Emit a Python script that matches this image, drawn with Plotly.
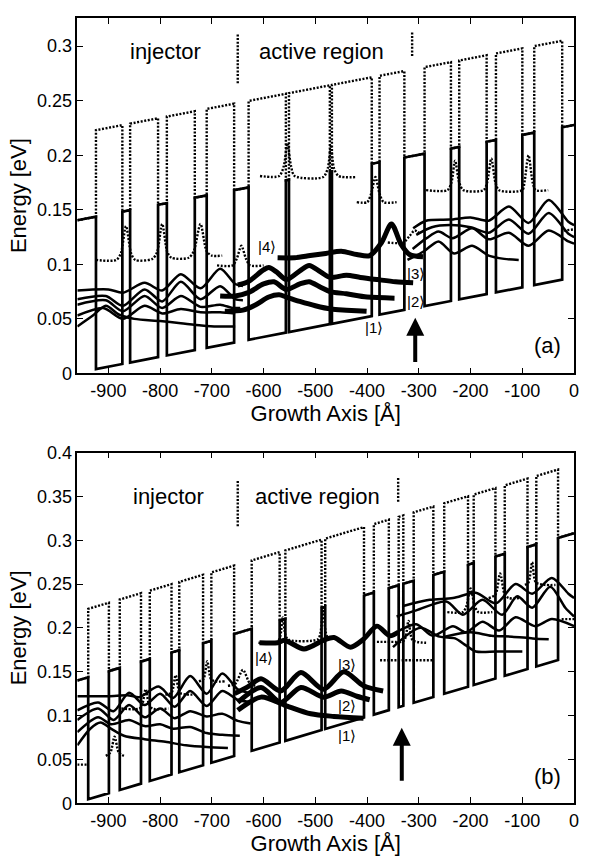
import plotly.graph_objects as go

# ---------------- panel (a) structure ----------------
a_barriers = [(-960, -924), (-873, -858), (-804, -787), (-733, -710), (-657, -629),
              (-557, -551), (-472, -468), (-391, -376), (-328, -289), (-238, -222),
              (-169, -151), (-100, -77), (-23, 0)]
a_slope = 9.1e-5          # eV per Angstrom
a_gamma_well = 0.0007     # Gamma well bottom at -960
a_x_barrier = 0.1404      # X level in barriers at -960
a_x_well = 0.2197         # X level in wells at -960

# ---------------- panel (b) structure ----------------
b_barriers = [(-960, -939), (-899, -878), (-837, -820), (-778, -763), (-717, -701),
              (-657, -623), (-569, -558), (-488, -481), (-406, -387), (-358, -339),
              (-330, -310), (-272, -251), (-205, -194), (-152, -134), (-90, -73), (-31, 0)]
b_slope = 1.75e-4
b_gamma_well = 0.0008
b_x_barrier = 0.140
b_x_well = 0.218

# ---------------- panel (a) wavefunctions ----------------
a_inj = [
    [(-960, 0.076), (-900, 0.077), (-872, 0.074), (-830, 0.083), (-796, 0.076), (-760, 0.091), (-722, 0.078), (-684, 0.096), (-655, 0.082), (-640, 0.080)],
    [(-960, 0.068), (-905, 0.071), (-872, 0.062), (-830, 0.077), (-796, 0.066), (-760, 0.084), (-722, 0.068), (-684, 0.080), (-655, 0.068), (-640, 0.067)],
    [(-960, 0.063), (-905, 0.067), (-872, 0.057), (-830, 0.071), (-796, 0.060), (-760, 0.071), (-722, 0.061), (-684, 0.063), (-660, 0.060), (-645, 0.060)],
    [(-960, 0.053), (-910, 0.060), (-872, 0.050), (-830, 0.062), (-796, 0.055), (-760, 0.059), (-722, 0.056), (-684, 0.056), (-655, 0.055)],
    [(-960, 0.043), (-930, 0.053), (-905, 0.062), (-880, 0.054), (-850, 0.050), (-800, 0.048), (-760, 0.046), (-720, 0.044), (-690, 0.043), (-655, 0.043)],
]
a_inj_right = [
    [(-311, 0.133), (-286, 0.140), (-240, 0.141), (-200, 0.143), (-165, 0.140), (-126, 0.153), (-88, 0.138), (-49, 0.159), (-11, 0.139), (0, 0.136)],
    [(-305, 0.127), (-275, 0.134), (-240, 0.136), (-200, 0.134), (-165, 0.129), (-126, 0.141), (-88, 0.128), (-49, 0.147), (-11, 0.128), (0, 0.125)],
    [(-312, 0.114), (-285, 0.124), (-262, 0.130), (-235, 0.124), (-197, 0.133), (-165, 0.123), (-126, 0.129), (-88, 0.117), (-49, 0.131), (-11, 0.121), (0, 0.119)],
    [(-322, 0.104), (-290, 0.112), (-262, 0.121), (-232, 0.110), (-197, 0.117), (-165, 0.108), (-135, 0.105), (-107, 0.104)],
]
a_state4 = [(-573, 0.106), (-540, 0.106), (-510, 0.108), (-480, 0.110), (-450, 0.112), (-420, 0.109), (-395, 0.108), (-372, 0.120), (-353, 0.137), (-334, 0.118), (-318, 0.109), (-292, 0.107)]
a_state3 = [(-650, 0.081), (-630, 0.084), (-600, 0.095), (-590, 0.097), (-575, 0.093), (-556, 0.086), (-530, 0.094), (-512, 0.099), (-490, 0.093), (-472, 0.088), (-440, 0.090), (-413, 0.088), (-380, 0.086), (-345, 0.084), (-311, 0.083)]
a_state2 = [(-684, 0.071), (-655, 0.071), (-630, 0.074), (-600, 0.082), (-580, 0.084), (-556, 0.077), (-530, 0.082), (-512, 0.084), (-490, 0.079), (-472, 0.075), (-440, 0.073), (-400, 0.070), (-347, 0.069)]
a_state1 = [(-675, 0.057), (-640, 0.058), (-615, 0.063), (-590, 0.070), (-570, 0.072), (-556, 0.070), (-530, 0.066), (-500, 0.062), (-470, 0.059), (-440, 0.058), (-401, 0.057)]
a_xstates = [
    [(-924, 0.104), (-885, 0.104), (-876, 0.110), (-866, 0.135), (-856, 0.110), (-848, 0.104), (-815, 0.105), (-806, 0.111), (-796, 0.137), (-786, 0.111), (-778, 0.106), (-745, 0.106), (-735, 0.112), (-722, 0.137), (-710, 0.112), (-700, 0.108), (-680, 0.108)],
    [(-690, 0.099), (-660, 0.099), (-652, 0.105), (-643, 0.117), (-634, 0.105), (-626, 0.099), (-600, 0.099)],
    [(-607, 0.181), (-570, 0.181), (-561, 0.190), (-554, 0.211), (-547, 0.190), (-540, 0.181), (-485, 0.180), (-476, 0.188), (-470, 0.208), (-464, 0.188), (-455, 0.181), (-420, 0.180)],
    [(-420, 0.157), (-400, 0.157), (-392, 0.165), (-384, 0.180), (-376, 0.165), (-368, 0.157), (-343, 0.157)],
    [(-286, 0.168), (-245, 0.168), (-237, 0.175), (-230, 0.195), (-222, 0.175), (-214, 0.168), (-175, 0.168), (-168, 0.175), (-160, 0.197), (-152, 0.175), (-145, 0.168), (-100, 0.168), (-96, 0.175), (-88, 0.200), (-80, 0.175), (-74, 0.168), (-50, 0.168)],
    [(-360, 0.120), (-330, 0.120), (-318, 0.126), (-308, 0.131), (-298, 0.128)],
    [(-20, 0.131), (0, 0.132)],
]

# ---------------- panel (b) wavefunctions ----------------
b_inj = [
    [(-960, 0.122), (-900, 0.122), (-860, 0.123), (-840, 0.121), (-803, 0.133), (-775, 0.120), (-742, 0.145), (-710, 0.125), (-680, 0.148), (-650, 0.130), (-630, 0.126)],
    [(-960, 0.106), (-920, 0.115), (-890, 0.105), (-860, 0.126), (-830, 0.112), (-800, 0.125), (-772, 0.110), (-742, 0.128), (-710, 0.111), (-680, 0.128), (-650, 0.118), (-620, 0.115)],
    [(-960, 0.095), (-920, 0.108), (-890, 0.095), (-860, 0.112), (-830, 0.098), (-800, 0.108), (-772, 0.097), (-742, 0.105), (-710, 0.099), (-680, 0.102), (-650, 0.094), (-625, 0.091)],
    [(-960, 0.081), (-920, 0.098), (-895, 0.090), (-860, 0.095), (-830, 0.088), (-800, 0.090), (-775, 0.085), (-742, 0.087), (-710, 0.080), (-680, 0.078), (-646, 0.077)],
    [(-960, 0.066), (-935, 0.085), (-915, 0.092), (-895, 0.085), (-870, 0.077), (-830, 0.073), (-790, 0.070), (-750, 0.066), (-710, 0.064), (-669, 0.063)],
]
b_inj_right = [
    [(-330, 0.225), (-279, 0.232), (-234, 0.234), (-190, 0.240), (-151, 0.228), (-113, 0.250), (-81, 0.239), (-43, 0.257), (-11, 0.239), (0, 0.234)],
    [(-343, 0.213), (-305, 0.220), (-247, 0.230), (-215, 0.215), (-177, 0.232), (-139, 0.215), (-110, 0.236), (-81, 0.223), (-46, 0.247), (-17, 0.223), (0, 0.213)],
    [(-343, 0.195), (-305, 0.204), (-273, 0.191), (-234, 0.202), (-209, 0.195), (-177, 0.207), (-145, 0.197), (-113, 0.212), (-75, 0.202), (-43, 0.210), (0, 0.202)],
    [(-350, 0.178), (-298, 0.200), (-260, 0.190), (-230, 0.188), (-209, 0.180), (-190, 0.173), (-150, 0.173), (-100, 0.173)],
    [(-250, 0.190), (-200, 0.195), (-160, 0.191), (-120, 0.190), (-80, 0.188), (-49, 0.187)],
]
b_state4 = [(-608, 0.183), (-573, 0.183), (-560, 0.186), (-522, 0.176), (-484, 0.186), (-464, 0.189), (-432, 0.178), (-407, 0.187), (-381, 0.202), (-356, 0.191), (-340, 0.195)]
b_state3 = [(-656, 0.125), (-630, 0.133), (-605, 0.142), (-567, 0.128), (-528, 0.149), (-484, 0.130), (-445, 0.150), (-407, 0.134), (-369, 0.128)]
b_state2 = [(-650, 0.115), (-605, 0.132), (-567, 0.115), (-528, 0.132), (-484, 0.121), (-450, 0.128), (-420, 0.122), (-395, 0.118)]
b_state1 = [(-650, 0.106), (-605, 0.121), (-560, 0.112), (-509, 0.102), (-464, 0.099), (-407, 0.097)]
b_xstates = [
    [(-960, 0.044), (-942, 0.044)],
    [(-905, 0.054), (-896, 0.058), (-888, 0.076), (-880, 0.058), (-870, 0.054)],
    [(-875, 0.108), (-840, 0.108), (-834, 0.114), (-828, 0.130), (-822, 0.114), (-815, 0.108), (-784, 0.108)],
    [(-790, 0.124), (-778, 0.126), (-770, 0.146), (-762, 0.126), (-750, 0.124), (-733, 0.124)],
    [(-725, 0.139), (-716, 0.142), (-709, 0.162), (-702, 0.142), (-694, 0.139), (-675, 0.139)],
    [(-669, 0.134), (-655, 0.136), (-640, 0.152), (-626, 0.136), (-615, 0.134)],
    [(-610, 0.183), (-575, 0.183), (-568, 0.190), (-563, 0.212), (-557, 0.190), (-550, 0.186), (-495, 0.187), (-490, 0.195), (-485, 0.221), (-480, 0.195), (-475, 0.188), (-470, 0.188)],
    [(-375, 0.163), (-273, 0.163)],
    [(-381, 0.184), (-343, 0.184)],
    [(-345, 0.183), (-328, 0.186), (-320, 0.208), (-312, 0.186), (-286, 0.183)],
    [(-245, 0.218), (-215, 0.218), (-208, 0.225), (-200, 0.245), (-192, 0.225), (-185, 0.218), (-158, 0.218)],
    [(-165, 0.234), (-152, 0.238), (-143, 0.262), (-134, 0.238), (-126, 0.234), (-105, 0.234)],
    [(-95, 0.249), (-88, 0.252), (-81, 0.275), (-74, 0.252), (-56, 0.249), (-36, 0.249)],
    [(-24, 0.210), (0, 0.210)],
]

# ---------------- labels ----------------
a_yticks = [0, 0.05, 0.1, 0.15, 0.2, 0.25, 0.3]
a_yticktext = ["0", "0.05", "0.1", "0.15", "0.2", "0.25", "0.3"]
b_yticks = [0, 0.05, 0.1, 0.15, 0.2, 0.25, 0.3, 0.35, 0.4]
b_yticktext = ["0", "0.05", "0.1", "0.15", "0.2", "0.25", "0.3", "0.35", "0.4"]
xticks = [-900, -800, -700, -600, -500, -400, -300, -200, -100, 0]
xticktext = ["-900", "-800", "-700", "-600", "-500", "-400", "-300", "-200", "-100", "0"]

a_state_labels = [("|1⟩", -387, 0.042), ("|2⟩", -306, 0.066), ("|3⟩", -306, 0.092), ("|4⟩", -594, 0.116)]
b_state_labels = [("|1⟩", -439, 0.077), ("|2⟩", -439, 0.111), ("|3⟩", -439, 0.158), ("|4⟩", -600, 0.166)]
a_separators = [(-650, 0.266, 0.311), (-313, 0.291, 0.313)]
b_separators = [(-650, 0.316, 0.369), (-340, 0.344, 0.372)]
a_arrow = (-307, 0.009, 0.051)
b_arrow = (-333, 0.024, 0.086)
a_texts = [("injector", -789, 0.295), ("active region", -489, 0.295), ("(a)", -52, 0.026)]
b_texts = [("injector", -783, 0.350), ("active region", -496, 0.350), ("(b)", -52, 0.030)]

FONT = "Liberation Sans, Arial, sans-serif"
DOTS = "2px,1.6px"
fig = go.Figure()


def layers(barriers, x0=-960, x1=0):
    segs = []
    cur = x0
    for b0, b1 in barriers:
        if b0 > cur:
            segs.append((cur, b0, "W"))
        segs.append((b0, b1, "B"))
        cur = b1
    if cur < x1:
        segs.append((cur, x1, "W"))
    return segs


def polyline(segs, slope, off_w, off_b):
    xs, ys = [], []
    for a, b, t in segs:
        off = off_w if t == "W" else off_b
        xs += [a, b]
        ys += [off + slope * (a + 960), off + slope * (b + 960)]
    return xs, ys


def add_line(pts, xa, ya, width, dash="solid", shape="spline"):
    fig.add_trace(go.Scatter(
        x=[p[0] for p in pts], y=[p[1] for p in pts], mode="lines",
        line=dict(color="black", width=width, dash=dash, shape=shape, smoothing=0.8),
        xaxis=xa, yaxis=ya, showlegend=False, hoverinfo="skip"))


def panel(xa, ya, barriers, slope, gw, xb, xw, inj, inj_r, states, xst, seps):
    segs = layers(barriers)
    dx, dy = polyline(segs, slope, xw, xb)
    fig.add_trace(go.Scatter(x=dx, y=dy, mode="lines",
                             line=dict(color="black", width=2.4, dash=DOTS),
                             xaxis=xa, yaxis=ya, showlegend=False, hoverinfo="skip"))
    sx, sy = polyline(segs, slope, gw, xb)
    fig.add_trace(go.Scatter(x=sx, y=sy, mode="lines",
                             line=dict(color="black", width=2.7),
                             xaxis=xa, yaxis=ya, showlegend=False, hoverinfo="skip"))
    for p in xst:
        add_line(p, xa, ya, 2.4, dash=DOTS)
    for p in inj + inj_r:
        add_line(p, xa, ya, 2.5)
    for p in states:
        add_line(p, xa, ya, 5)
    for x, y0, y1 in seps:
        fig.add_trace(go.Scatter(x=[x, x], y=[y0, y1], mode="lines",
                                 line=dict(color="black", width=2.4, dash=DOTS),
                                 xaxis=xa, yaxis=ya, showlegend=False, hoverinfo="skip"))


panel("x", "y", a_barriers, a_slope, a_gamma_well, a_x_barrier, a_x_well,
      a_inj, a_inj_right, [a_state4, a_state3, a_state2, a_state1], a_xstates, a_separators)
panel("x2", "y2", b_barriers, b_slope, b_gamma_well, b_x_barrier, b_x_well,
      b_inj, b_inj_right, [b_state4, b_state3, b_state2, b_state1], b_xstates, b_separators)

annotations = []
for xr, yr, labs, texts, arrow in (("x", "y", a_state_labels, a_texts, a_arrow),
                                   ("x2", "y2", b_state_labels, b_texts, b_arrow)):
    for t, x, y in labs:
        annotations.append(dict(text=t, x=x, y=y, xref=xr, yref=yr, showarrow=False,
                                font=dict(family=FONT, size=15, color="black")))
    for t, x, y in texts:
        annotations.append(dict(text=t, x=x, y=y, xref=xr, yref=yr, showarrow=False,
                                font=dict(family=FONT, size=22, color="black")))
    ax, y0, y1 = arrow
    annotations.append(dict(x=ax, y=y1, ax=ax, ay=y0, xref=xr, yref=yr, axref=xr, ayref=yr,
                            text="", showarrow=True, arrowhead=2, arrowsize=0.9,
                            arrowwidth=4, arrowcolor="black"))

axis_common = dict(showline=True, linecolor="black", linewidth=1.6, mirror="ticks",
                   ticks="inside", ticklen=6, tickwidth=1.4, tickcolor="black",
                   showgrid=False, zeroline=False,
                   tickfont=dict(family=FONT, size=18, color="black"))
title_font = dict(family=FONT, size=22, color="black")

fig.update_layout(
    width=589, height=865, margin=dict(l=0, r=0, t=0, b=0),
    paper_bgcolor="white", plot_bgcolor="white",
    annotations=annotations,
    xaxis=dict(domain=[78 / 589, 579 / 589], range=[-960, 0], anchor="y",
               tickvals=xticks, ticktext=xticktext,
               title=dict(text="Growth Axis [Å]", font=title_font, standoff=3), **axis_common),
    yaxis=dict(domain=[1 - 372 / 865, 1 - 8 / 865], range=[0, 0.326], anchor="x",
               tickvals=a_yticks, ticktext=a_yticktext,
               title=dict(text="Energy [eV]", font=title_font, standoff=4), **axis_common),
    xaxis2=dict(domain=[78 / 589, 579 / 589], range=[-960, 0], anchor="y2",
                tickvals=xticks, ticktext=xticktext,
                title=dict(text="Growth Axis [Å]", font=title_font, standoff=3), **axis_common),
    yaxis2=dict(domain=[1 - 812 / 865, 1 - 453 / 865], range=[0, 0.4], anchor="x2",
                tickvals=b_yticks, ticktext=b_yticktext,
                title=dict(text="Energy [eV]", font=title_font, standoff=4), **axis_common),
)

fig.write_html("out.html")
